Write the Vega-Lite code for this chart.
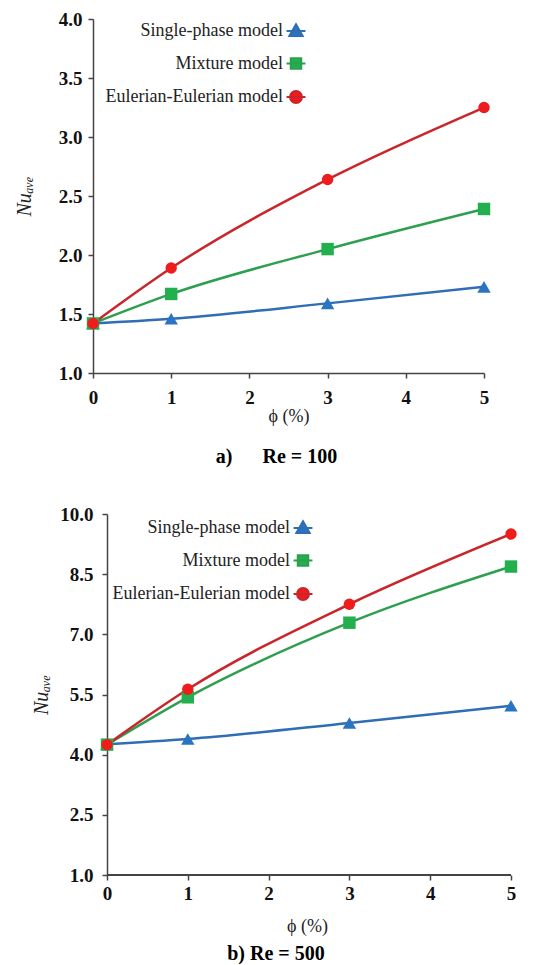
{
  "$schema": "https://vega.github.io/schema/vega-lite/v6.json",
  "padding": {"left": 14, "top": 10, "right": 5, "bottom": 0},
  "background": "white",
  "spacing": 38,
  "datasets": {
    "re100": [
      {"model": "Single-phase model", "phi": 0, "Nu": 1.42},
      {"model": "Single-phase model", "phi": 1, "Nu": 1.46},
      {"model": "Single-phase model", "phi": 3, "Nu": 1.59},
      {"model": "Single-phase model", "phi": 5, "Nu": 1.73},
      {"model": "Mixture model", "phi": 0, "Nu": 1.42},
      {"model": "Mixture model", "phi": 1, "Nu": 1.67},
      {"model": "Mixture model", "phi": 3, "Nu": 2.05},
      {"model": "Mixture model", "phi": 5, "Nu": 2.39},
      {"model": "Eulerian-Eulerian model", "phi": 0, "Nu": 1.42},
      {"model": "Eulerian-Eulerian model", "phi": 1, "Nu": 1.89},
      {"model": "Eulerian-Eulerian model", "phi": 3, "Nu": 2.64},
      {"model": "Eulerian-Eulerian model", "phi": 5, "Nu": 3.25}
    ],
    "re500": [
      {"model": "Single-phase model", "phi": 0, "Nu": 4.26},
      {"model": "Single-phase model", "phi": 1, "Nu": 4.39},
      {"model": "Single-phase model", "phi": 3, "Nu": 4.79},
      {"model": "Single-phase model", "phi": 5, "Nu": 5.22},
      {"model": "Mixture model", "phi": 0, "Nu": 4.25},
      {"model": "Mixture model", "phi": 1, "Nu": 5.43},
      {"model": "Mixture model", "phi": 3, "Nu": 7.29},
      {"model": "Mixture model", "phi": 5, "Nu": 8.69},
      {"model": "Eulerian-Eulerian model", "phi": 0, "Nu": 4.25},
      {"model": "Eulerian-Eulerian model", "phi": 1, "Nu": 5.63},
      {"model": "Eulerian-Eulerian model", "phi": 3, "Nu": 7.75},
      {"model": "Eulerian-Eulerian model", "phi": 5, "Nu": 9.50}
    ]
  },
  "vconcat": [
    {
      "width": 391,
      "height": 354,
      "data": {"name": "re100"},
      "title": {"text": "a)\u00a0\u00a0\u00a0\u00a0\u00a0\u00a0Re = 100", "orient": "bottom", "anchor": "middle", "frame": "group", "offset": 22, "dx": -12},
      "encoding": {
        "x": {"field": "phi", "type": "quantitative", "scale": {"domain": [0, 5], "nice": false},
              "axis": {"values": [0, 1, 2, 3, 4, 5], "format": "d", "title": "ϕ (%)", "labelPadding": 10, "titlePadding": 0, "labelFlush": false}},
        "y": {"field": "Nu", "type": "quantitative", "scale": {"domain": [1, 4], "nice": false, "zero": false},
              "axis": {"values": [1, 1.5, 2, 2.5, 3, 3.5, 4], "format": ".1f", "title": "Nuₐᵥₑ", "labelPadding": 6, "titlePadding": 24}}
      },
      "layer": [
        {
          "mark": {"type": "line", "interpolate": "monotone", "strokeWidth": 2.5},
          "encoding": {
            "color": {"field": "model", "type": "nominal",
                      "scale": {"domain": ["Single-phase model", "Mixture model", "Eulerian-Eulerian model"], "range": ["#2f6db4", "#2e9e4f", "#c9252b"]},
                      "legend": null}
          }
        },
        {
          "mark": {"type": "point", "filled": true, "opacity": 1},
          "encoding": {
            "color": {"field": "model", "type": "nominal",
                      "scale": {"domain": ["Single-phase model", "Mixture model", "Eulerian-Eulerian model"], "range": ["#2a74c2", "#22b04e", "#ee1c1c"]},
                      "legend": {
                        "orient": "none", "legendX": 194, "legendY": 3, "title": null, "padding": 0,
                        "labelFont": "Liberation Serif", "labelFontSize": 18, "labelColor": "#222",
                        "labelAlign": "right", "labelOffset": -22, "labelLimit": 300,
                        "symbolSize": 196, "symbolStrokeWidth": 2, "rowPadding": 13.5,
                        "encoding": {"symbols": {
                          "shape": {"value": {"expr": "datum.value === 'Single-phase model' ? 'M-1.35,0H1.35M0,-0.95L0.95,0.7L-0.95,0.7Z' : datum.value === 'Mixture model' ? 'M-1.35,0H1.35M-0.75,-0.75H0.75V0.75H-0.75Z' : 'M-1.35,0H1.35M-0.85,0A0.85,0.85,0,1,1,0.85,0A0.85,0.85,0,1,1,-0.85,0Z'"}},
                          "fill": {"value": {"expr": "datum.value === 'Single-phase model' ? '#2a74c2' : datum.value === 'Mixture model' ? '#22b04e' : '#ee1c1c'"}},
                          "stroke": {"value": {"expr": "datum.value === 'Single-phase model' ? '#2f6db4' : datum.value === 'Mixture model' ? '#2e9e4f' : '#c9252b'"}},
                          "strokeWidth": {"value": 2}
                        }}
                      }},
            "shape": {"field": "model", "type": "nominal",
                      "scale": {"domain": ["Single-phase model", "Mixture model", "Eulerian-Eulerian model"], "range": ["triangle-up", "square", "circle"]},
                      "legend": null},
            "size": {"field": "model", "type": "nominal",
                     "scale": {"domain": ["Single-phase model", "Mixture model", "Eulerian-Eulerian model"], "range": [180, 130, 200]},
                     "legend": null}
          }
        }
      ],
      "resolve": {"scale": {"color": "independent"}}
    },
    {
      "width": 418,
      "height": 361,
      "data": {"name": "re500"},
      "title": {"text": "b) Re = 500", "orient": "bottom", "anchor": "middle", "frame": "group", "offset": 9, "dx": -26},
      "encoding": {
        "x": {"field": "phi", "type": "quantitative", "scale": {"domain": [-0.1733, 5], "nice": false, "zero": false},
              "axis": {"values": [0, 1, 2, 3, 4, 5], "format": "d", "title": "ϕ (%)", "titleX": 214, "domain": false, "labelPadding": 4, "titlePadding": 14, "labelFlush": false}},
        "y": {"field": "Nu", "type": "quantitative", "scale": {"domain": [1, 10], "nice": false, "zero": false},
              "axis": {"values": [1, 2.5, 4, 5.5, 7, 8.5, 10], "format": ".1f", "title": "Nuₐᵥₑ", "offset": -14, "labelPadding": 9, "titlePadding": 8}}
      },
      "layer": [
        {
          "mark": {"type": "rule", "color": "#444", "strokeWidth": 1.5},
          "encoding": {"x": {"datum": 0}, "x2": {"datum": 5}, "y": {"datum": 1}}
        },
        {
          "mark": {"type": "line", "interpolate": "monotone", "strokeWidth": 2.5},
          "encoding": {
            "color": {"field": "model", "type": "nominal",
                      "scale": {"domain": ["Single-phase model", "Mixture model", "Eulerian-Eulerian model"], "range": ["#2f6db4", "#2e9e4f", "#c9252b"]},
                      "legend": null}
          }
        },
        {
          "mark": {"type": "point", "filled": true, "opacity": 1},
          "encoding": {
            "color": {"field": "model", "type": "nominal",
                      "scale": {"domain": ["Single-phase model", "Mixture model", "Eulerian-Eulerian model"], "range": ["#2a74c2", "#22b04e", "#ee1c1c"]},
                      "legend": {
                        "orient": "none", "legendX": 201, "legendY": 5, "title": null, "padding": 0,
                        "labelFont": "Liberation Serif", "labelFontSize": 18, "labelColor": "#222",
                        "labelAlign": "right", "labelOffset": -22, "labelLimit": 300,
                        "symbolSize": 196, "symbolStrokeWidth": 2, "rowPadding": 13.5,
                        "encoding": {"symbols": {
                          "shape": {"value": {"expr": "datum.value === 'Single-phase model' ? 'M-1.35,0H1.35M0,-0.95L0.95,0.7L-0.95,0.7Z' : datum.value === 'Mixture model' ? 'M-1.35,0H1.35M-0.75,-0.75H0.75V0.75H-0.75Z' : 'M-1.35,0H1.35M-0.85,0A0.85,0.85,0,1,1,0.85,0A0.85,0.85,0,1,1,-0.85,0Z'"}},
                          "fill": {"value": {"expr": "datum.value === 'Single-phase model' ? '#2a74c2' : datum.value === 'Mixture model' ? '#22b04e' : '#ee1c1c'"}},
                          "stroke": {"value": {"expr": "datum.value === 'Single-phase model' ? '#2f6db4' : datum.value === 'Mixture model' ? '#2e9e4f' : '#c9252b'"}},
                          "strokeWidth": {"value": 2}
                        }}
                      }},
            "shape": {"field": "model", "type": "nominal",
                      "scale": {"domain": ["Single-phase model", "Mixture model", "Eulerian-Eulerian model"], "range": ["triangle-up", "square", "circle"]},
                      "legend": null},
            "size": {"field": "model", "type": "nominal",
                     "scale": {"domain": ["Single-phase model", "Mixture model", "Eulerian-Eulerian model"], "range": [180, 130, 200]},
                     "legend": null}
          }
        }
      ],
      "resolve": {"scale": {"color": "independent"}}
    }
  ],
  "resolve": {
    "scale": {"color": "independent", "shape": "independent", "size": "independent", "x": "independent", "y": "independent"},
    "legend": {"color": "independent"}
  },
  "config": {
    "view": {"stroke": null},
    "font": "Liberation Serif",
    "axis": {
      "grid": false, "domainColor": "#444", "domainWidth": 1.5, "tickColor": "#444", "tickWidth": 1.5, "tickSize": 5,
      "labelFont": "Liberation Serif", "labelFontWeight": "bold", "labelFontSize": 19, "labelColor": "#111",
      "titleFont": "Liberation Serif", "titleFontWeight": "normal", "titleFontSize": 18, "titleColor": "#222"
    },
    "axisY": {"titleFontStyle": "italic", "titleFontSize": 20},
    "title": {"font": "Liberation Serif", "fontWeight": "bold", "fontSize": 20, "color": "#000"}
  }
}
